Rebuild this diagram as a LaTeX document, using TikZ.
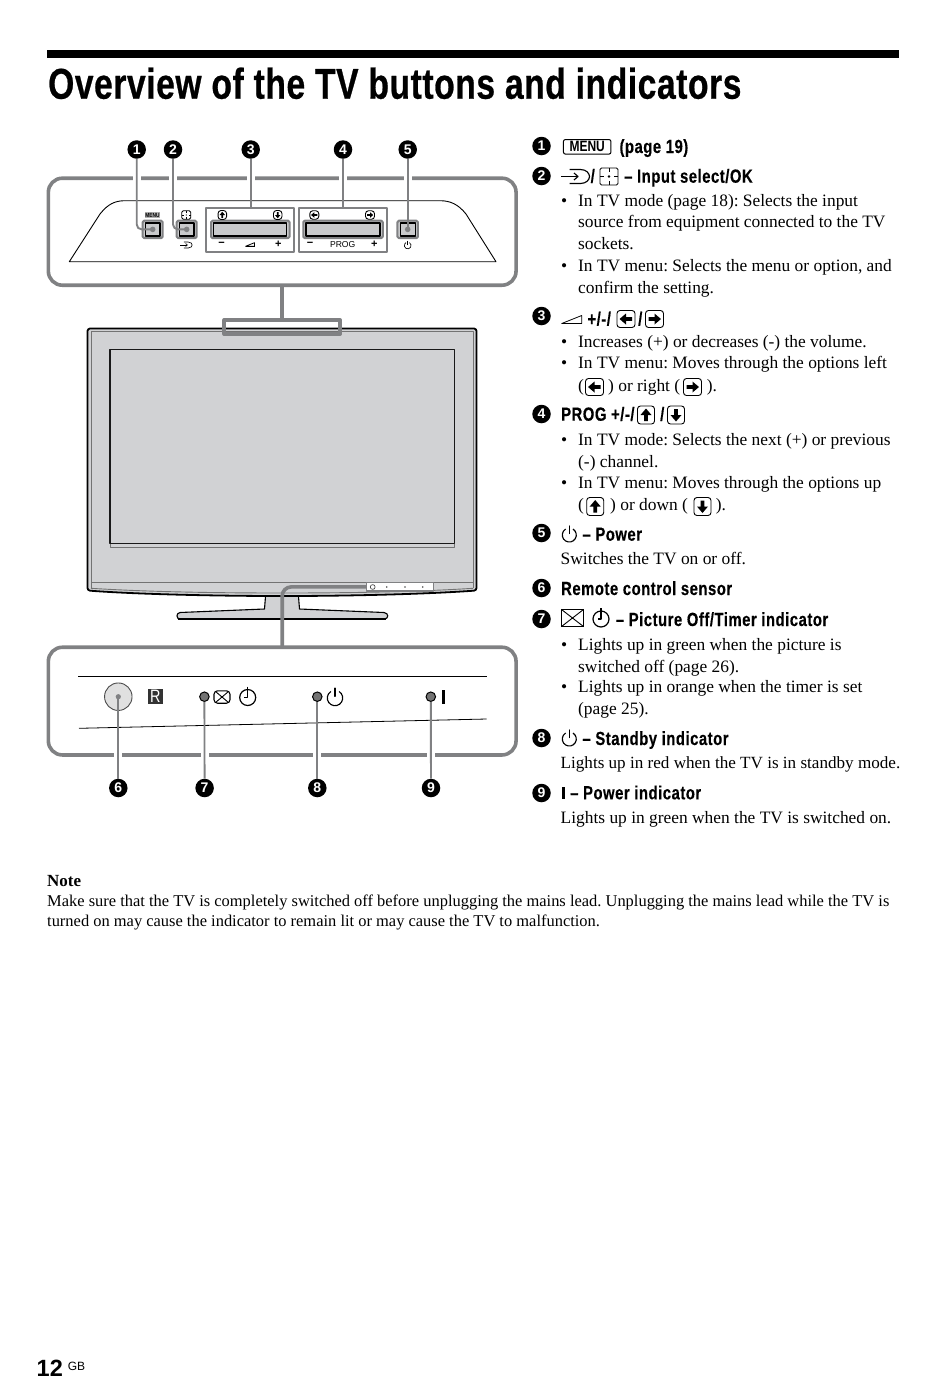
\documentclass[tikz,border=0pt]{standalone}
\usepackage{fontspec}
\setmainfont{Liberation Serif}
\newfontfamily\titlefont[FakeStretch=0.78,LetterSpace=1.4,FakeBold=0.6]{Liberation Sans}
\newfontfamily\headfont[FakeStretch=0.78,LetterSpace=2.8,FakeBold=0.3]{Liberation Sans}
\newfontfamily\plainsans{Liberation Sans}
\newfontfamily\keyfont[FakeStretch=0.8]{Liberation Sans}
\usetikzlibrary{calc,positioning}
\definecolor{linegray}{HTML}{808183}
\definecolor{tvgray}{HTML}{D1D2D4}
\definecolor{keygray}{HTML}{C9CACC}
\tikzset{
  panelbox/.style={draw=linegray,line width=3.6pt,rounded corners=14pt,outer sep=0pt,inner sep=0pt,minimum width=467.7pt,minimum height=107pt},
  callout/.style={circle,fill=black,text=white,inner sep=0pt,minimum size=18.5pt,font=\plainsans\bfseries\fontsize{14}{14}\selectfont},
  callline/.style={draw=linegray,line width=1.9pt,rounded corners=5pt},
  callhalo/.style={draw=white,line width=8pt},
  linkline/.style={draw=linegray,line width=3.6pt,rounded corners=9pt},
  groupbox/.style={draw=linegray,line width=2.2pt,fill=white,outer sep=0pt,inner sep=0pt,minimum width=88pt,minimum height=43.4pt},
  keyring/.style={draw=linegray,fill=keygray,line width=2pt,rounded corners=1.5pt,inner sep=0pt,minimum height=17.5pt},
  keyface/.style={draw=black,fill=keygray,line width=1.2pt,inner sep=0pt,minimum height=13pt},
  tinylabel/.style={inner sep=0pt,font=\plainsans\fontsize{8.6}{9}\selectfont},
  tinysign/.style={inner sep=0pt,font=\plainsans\bfseries\fontsize{11}{11}\selectfont},
  ledlamp/.style={circle,draw=black,fill=black!55,line width=1pt,inner sep=0pt,minimum size=9.5pt},
  headtext/.style={anchor=base west,inner sep=0pt,font=\headfont\bfseries\fontsize{19}{22}\selectfont},
  bodytext/.style={anchor=base west,inner sep=0pt,yshift=-.6pt,font=\frenchspacing\fontsize{17.4}{20}\selectfont},
  notetext/.style={bodytext,font=\frenchspacing\fontsize{16.45}{20}\selectfont},
  signstroke/.style={line width=1.15pt},
  smallsign/.style={signstroke/.style={line width=.65pt}},
  powersign/.pic={\draw[signstroke,line cap=round] (0,-9) -- (0,-1.5); \draw[signstroke] (-58:7) arc (-58:238:7);},
  timersign/.pic={\draw[line width=1.2pt] (0,0) circle (8); \draw[line width=1.3pt] (0,-11) -- (0,0) -- (-3.5,0);},
  picoffsign/.pic={\draw[line width=1.1pt] (-8,-6.2) rectangle (8,6.2); \draw[line width=.9pt] (-8,-6.2) -- (8,6.2) (-8,6.2) -- (8,-6.2);},
  picoffround/.pic={\draw[line width=1.1pt,rounded corners=3.5pt] (-8,-6.2) rectangle (8,6.2); \draw[line width=.9pt] (-6.5,-5.5) -- (6.5,5.5) (-6.5,5.5) -- (6.5,-5.5);},
  volumesign/.pic={\draw[line width=.8pt,line join=round] (-10,4) -- (10,4) -- (10,-4) -- cycle; \draw[line width=1.3pt] (-10,4) -- (10,4);},
  inputsign/.pic={\draw[signstroke] (-14.5,0) -- (2,0); \draw[signstroke] (-1.5,-3.5) -- (2.5,0) -- (-1.5,3.5); \draw[signstroke] (-6,-7) -- (5,-7) .. controls (11,-7) and (14,-3) .. (14,0) .. controls (14,3) and (11,7) .. (5,7) -- (-6,7);},
  selectsign/.pic={\draw[line width=.9pt,rounded corners=1.5pt] (-9,-8.5) rectangle (9,8.5); \fill (0,0) circle (1.3); \draw[line width=.7pt] (0,-8.5) -- (0,-4.5) (0,8.5) -- (0,4.5) (-9,0) -- (-5,0) (9,0) -- (5,0);},
  keyarrow/.pic={\draw[line width=.9pt,rounded corners=3pt] (-9,-8.5) rectangle (9,8.5); \fill (-6,-1.8) -- (0,-1.8) -- (0,-5.5) -- (6.5,0) -- (0,5.5) -- (0,1.8) -- (-6,1.8) -- cycle;}
}

\begin{document}
\begin{tikzpicture}[x=1pt,y=-1pt,line join=round]
  \useasboundingbox (0,0) rectangle (950,1385);

  \fill[black] (47,50) rectangle (899,58);
  \node[anchor=base west,inner sep=0pt,font=\titlefont\bfseries\fontsize{43}{46}\selectfont] (title) at (48,98.7) {Overview of the TV buttons and indicators};

  \node[panelbox] (upperbox) at (282.2,231.7) {};
  \node[panelbox,minimum height=107.7pt] (lowerbox) at (282.2,701.1) {};

  \node[callout] (n1) at (136.7,149.5) {1};
  \node[callout] (n2) at (173,149.5) {2};
  \node[callout] (n3) at (250.7,149.5) {3};
  \node[callout] (n4) at (343,149.5) {4};
  \node[callout] (n5) at (407.7,149.5) {5};
  \node[callout] (n6) at (118.3,788) {6};
  \node[callout] (n7) at (204.6,788) {7};
  \node[callout] (n8) at (317.3,788) {8};
  \node[callout] (n9) at (431,788) {9};
  \foreach \n in {n1,n2,n3,n4,n5}
    \draw[callhalo] ($(\n |- upperbox.north)+(0,-5)$) -- ++(0,10);
  \foreach \n in {n6,n7,n8,n9}
    \draw[callhalo] ($(\n |- lowerbox.south)+(0,-5)$) -- ++(0,10);

  \draw[line width=.9pt,fill=white] (69.3,261.7) -- (100,214) .. controls (108,204) and (115,200.7) .. (125,200.7) -- (440,200.7) .. controls (450,200.7) and (458,204) .. (466,214) -- (496,261.7) -- cycle;
  \node[groupbox] (volbox) at (250,230) {};
  \node[groupbox] (progbox) at (343.2,230) {};
  \foreach \nm/\x/\w in {menubtn/152.7/14.5,inputbtn/186.7/14.5,volbtn/250.3/73,progbtn/343/74,powerbtn/407.7/15}{
    \node[keyring,minimum width={(\w+5.5)*1pt}] (\nm ring) at (\x,229.4) {};
    \node[keyface,minimum width={\w*1pt}] (\nm) at (\x,229.4) {};
  }
  \node[inner sep=0pt,fill=black!30,text=black,minimum width=13.5pt,minimum height=6.8pt,font=\keyfont\bfseries\fontsize{6}{6}\selectfont] (menulabel) at (152.5,215) {MENU};
  \pic[scale=.5] at (186.2,215) {selectsign};
  \pic[scale=.42,smallsign] at (186.3,245) {inputsign};
  \pic[scale=.5,rotate=90] at (222.3,215) {keyarrow};
  \pic[scale=.5,rotate=-90] at (277.7,215) {keyarrow};
  \pic[scale=.5,rotate=180] at (314.3,215) {keyarrow};
  \pic[scale=.5] at (370,215) {keyarrow};
  \node[tinysign] (volminus) at (221.7,244.3) {−};
  \pic[scale=.45] at (250,244.5) {volumesign};
  \node[tinysign] (volplus) at (278.3,244.3) {+};
  \node[tinysign] (progminus) at (310,244.3) {−};
  \node[tinylabel] (proglabel) at (342.7,245) {PROG};
  \node[tinysign] (progplus) at (374.3,244.3) {+};
  \pic[scale=.48,smallsign] at (407.7,245.5) {powersign};

  \coordinate (menudot) at (152.7,229.4);
  \coordinate (inputdot) at (186.7,229.4);
  \coordinate (powerdot) at (407.7,229.4);
  \fill[linegray] (menudot) circle (2.8);
  \fill[linegray] (inputdot) circle (2.8);
  \fill[linegray] (powerdot) circle (2.8);
  \draw[callline] (n1) |- (menudot);
  \draw[callline] (n2) |- (inputdot);
  \draw[callline] (n3) -- (n3 |- volbox.north);
  \draw[callline] (n4) -- (n4 |- progbox.north);
  \draw[callline] (n5) -- (powerdot);

  \draw[fill=tvgray,line width=1.1pt] (265.7,594) -- (264.5,609) -- (180,612.5) .. controls (176,613) and (176,619) .. (180,619) -- (384,619) .. controls (389,619) and (389,613) .. (384,612.5) -- (299.5,609) -- (298.3,594) -- cycle;
  \draw[line width=2pt] (178,618.6) -- (386,618.6);
  \draw[fill=tvgray,line width=1.8pt,rounded corners=2.5pt] (87.5,328.5) -- (476.5,328.5) -- (476.5,590.5) .. controls (420,594.5) and (340,596) .. (282,596) .. controls (225,596) and (140,594.5) .. (87.5,590.5) -- cycle;
  \draw[draw=black!55,line width=.8pt] (91,588) -- (91,331) -- (473,331) -- (473,588);
  \draw[draw=black!55,line width=1.3pt] (91,582.7) -- (473,582.7);
  \draw[draw=black!55,line width=.9pt] (91,588.3) .. controls (150,592) and (220,593) .. (282,593) .. controls (345,593) and (415,592) .. (473,588.3);
  \draw[draw=black!55,line width=.8pt] (110,543.7) -- (110,547.3) -- (454.7,547.3) -- (454.7,543.7);
  \draw[draw=black!90,line width=1.1pt] (110,349.7) rectangle (454.7,543.7);

  \node[draw=linegray,line width=3.6pt,outer sep=0pt,inner sep=0pt,minimum width=116pt,minimum height=14pt] (topmark) at (282.2,327) {};
  \draw[linkline] (upperbox.south) -- (topmark.north);
  \node[draw=linegray,fill=white,line width=1.4pt,outer sep=0pt,inner sep=0pt,minimum width=66.6pt,minimum height=8.4pt] (ledstrip) at (400,586.9) {};
  \draw[linkline] (ledstrip.west) -| (lowerbox.north);
  \draw[draw=black!70,line width=.7pt] (372.7,587) circle (2.4);
  \foreach \x in {386.7,405,422.7}
    \fill[black!70] (\x,587) circle (.9);

  \draw[line width=.8pt] (78.3,676.7) -- (486.7,676.7);
  \draw[line width=.8pt] (79,728.3) -- (486.7,719);
  \node[circle,draw=black!70,fill=black!12,line width=.9pt,inner sep=0pt,minimum size=27.5pt] (sensor) at (118.3,696.7) {};
  \fill[linegray] (sensor.center) circle (2.6);
  \node[fill=black!80,text=white,inner sep=0pt,minimum size=15pt,font=\keyfont\fontsize{18}{15}\selectfont] (rsign) at (155.2,696.7) {R};
  \node[ledlamp] (led7) at (204.4,696.7) {};
  \node[ledlamp] (led8) at (317.3,696.7) {};
  \node[ledlamp] (led9) at (430.8,696.7) {};
  \pic at (222,697) {picoffround};
  \pic at (247.7,697.5) {timersign};
  \pic[scale=1.1] at (335,698) {powersign};
  \fill[black] (441.9,690) rectangle (444.7,704);
  \draw[callline] (n6) -- (sensor.center);
  \draw[callline] (n7) -- (led7);
  \draw[callline] (n8) -- (led8);
  \draw[callline] (n9) -- (led9);

  \foreach \y [count=\i] in {146,176,316,414,533,588,619,738,793}
    \node[callout] (k\i) at (541.5,\y) {\i};

  \node[draw=black,line width=1pt,rounded corners=2pt,inner sep=0pt,minimum width=47.5pt,minimum height=14.6pt,font=\keyfont\bfseries\fontsize{15}{15}\selectfont] (menukey) at (587.2,146.8) {MENU};
  \node[headtext] (h1) at (619.3,153) {(page 19)};
  \pic at (575.5,176.5) {inputsign};
  \node[headtext] (h2a) at (590.5,182.7) {/};
  \pic at (609,176.5) {selectsign};
  \node[headtext] (h2) at (624,182.7) {– Input select/OK};
  \pic at (571.7,319.5) {volumesign};
  \node[headtext] (h3) at (587.3,325.5) {+/-/};
  \pic[rotate=180] at (626,319) {keyarrow};
  \node[headtext] (h3a) at (638,325.5) {/};
  \pic at (654.5,319) {keyarrow};
  \node[headtext] (h4) at (561,420.7) {PROG +/-/};
  \pic[rotate=90] at (646,415) {keyarrow};
  \node[headtext] (h4a) at (660,420.7) {/};
  \pic[rotate=-90] at (676,415) {keyarrow};
  \pic at (569.3,535) {powersign};
  \node[headtext] (h5) at (582.3,540.7) {– Power};
  \node[headtext] (h6) at (561,595) {Remote control sensor};
  \pic[scale=1.4] at (572.5,618) {picoffsign};
  \pic at (601,619) {timersign};
  \node[headtext] (h7) at (615.7,626) {– Picture Off/Timer indicator};
  \pic at (569.3,739) {powersign};
  \node[headtext] (h8) at (582.3,745) {– Standby indicator};
  \fill[black] (561.7,786.7) rectangle (565,799.3);
  \node[headtext] (h9) at (570,799.3) {– Power indicator};

  \foreach \y [count=\i] in {206,271,347.3,368.3,445,488.3,650,692.3}
    \node[bodytext] (dot\i) at (561,\y) {•};
  \foreach \y/\txt [count=\i] in {206/{In TV mode (page 18): Selects the input},227.3/{source from equipment connected to the TV},249/{sockets.},271/{In TV menu: Selects the menu or option, and},292.7/{confirm the setting.},347.3/{Increases (+) or decreases (-) the volume.},368.3/{In TV menu: Moves through the options left},445/{In TV mode: Selects the next (+) or previous},466.7/{(-) channel.},488.3/{In TV menu: Moves through the options up},650/{Lights up in green when the picture is},671.7/{switched off (page 26).},692.3/{Lights up in orange when the timer is set},714.3/{(page 25).}}
    \node[bodytext] (line\i) at (578,\y) {\txt};
  \node[bodytext] (left1) at (578,390.7) {(};
  \pic[rotate=180] at (594.5,387) {keyarrow};
  \node[bodytext] (left2) at (608,390.7) {) or right (};
  \pic at (692.5,387) {keyarrow};
  \node[bodytext] (left3) at (706.7,390.7) {).};
  \node[bodytext] (up1) at (578,510) {(};
  \pic[rotate=90] at (595.2,506.5) {keyarrow};
  \node[bodytext] (up2) at (610,510) {) or down (};
  \pic[rotate=-90] at (702.5,506.5) {keyarrow};
  \node[bodytext] (up3) at (715.7,510) {).};
  \node[bodytext] (s5) at (560.5,564) {Switches the TV on or off.};
  \node[bodytext,font=\frenchspacing\fontsize{17.1}{20}\selectfont] (s8) at (560.5,768.3) {Lights up in red when the TV is in standby mode.};
  \node[bodytext] (s9) at (560.5,822.7) {Lights up in green when the TV is switched on.};

  \node[bodytext,font=\bfseries\fontsize{17}{20}\selectfont] (note) at (47,886) {Note};
  \node[notetext] (note1) at (47,906) {Make sure that the TV is completely switched off before unplugging the mains lead. Unplugging the mains lead while the TV is};
  \node[notetext] (note2) at (47,926) {turned on may cause the indicator to remain lit or may cause the TV to malfunction.};

  \node[anchor=base west,inner sep=0pt,font=\plainsans\bfseries\fontsize{23.5}{26}\selectfont] (pagenum) at (36.5,1376) {12};
  \node[anchor=base west,inner sep=0pt,font=\plainsans\fontsize{12}{14}\selectfont] (pagegb) at (67.7,1370) {GB};
\end{tikzpicture}
\end{document}
